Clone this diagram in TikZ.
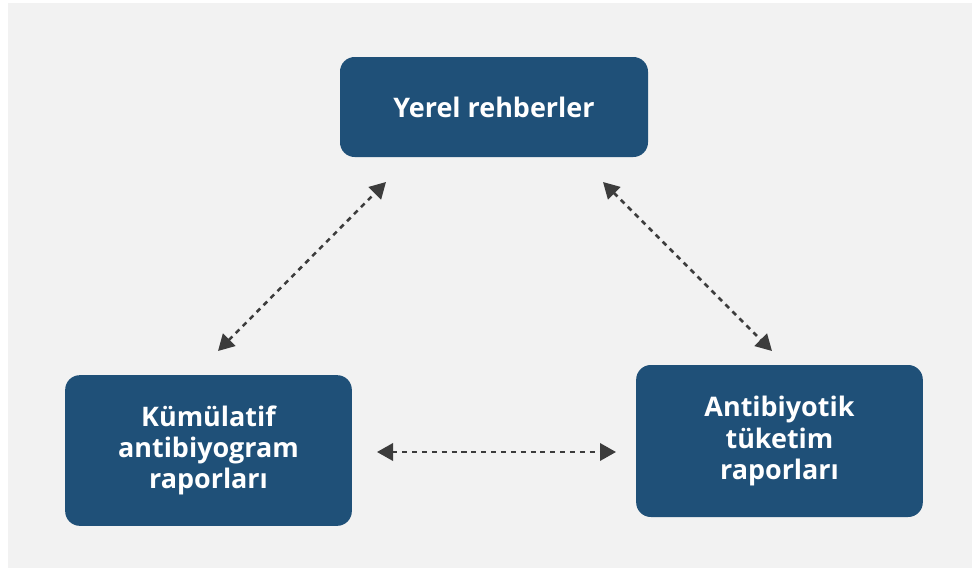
\documentclass[tikz,border=0pt]{standalone}
\usepackage{fontspec}
\setmainfont{Open Sans}
\usetikzlibrary{arrows.meta}
\definecolor{boxblue}{HTML}{1F5078}
\definecolor{panelgray}{HTML}{F2F2F2}
\definecolor{arrowgray}{HTML}{3C3C3C}
\begin{document}
\begin{tikzpicture}[x=0.75pt,y=-0.75pt,
  card/.style={rectangle, rounded corners=11pt, fill=boxblue, text=white,
    font=\bfseries\fontsize{20.2}{23.3}\selectfont, align=center, inner sep=0pt},
  link/.style={draw=arrowgray, line width=1.9pt, dash pattern=on 3.8pt off 3.6pt,
    {Triangle[length=12pt,width=13pt]}-{Triangle[length=12pt,width=13pt]}}]
  \fill[white] (0,0) rectangle (972,575);
  \useasboundingbox (0,0) rectangle (972,575);
  \fill[panelgray] (8,3) rectangle (972,568);
  \node[card, minimum width=231pt, minimum height=75pt] (top) at (494,107) {Yerel rehberler};
  \node[card, minimum width=215pt, minimum height=113pt] (left) at (208.5,450.5) {Kümülatif\\antibiyogram\\raporları};
  \node[card, minimum width=215pt, minimum height=114pt] (right) at (779.5,441) {Antibiyotik\\tüketim\\raporları};
  \coordinate (l1) at (218,351);
  \coordinate (l2) at (386,182);
  \coordinate (r1) at (603,182);
  \coordinate (r2) at (772,351);
  \coordinate (h1) at (377,452);
  \coordinate (h2) at (616,452);
  \draw[link] (l1) -- (l2);
  \draw[link] (r1) -- (r2);
  \draw[link] (h1) -- (h2);
\end{tikzpicture}
\end{document}
